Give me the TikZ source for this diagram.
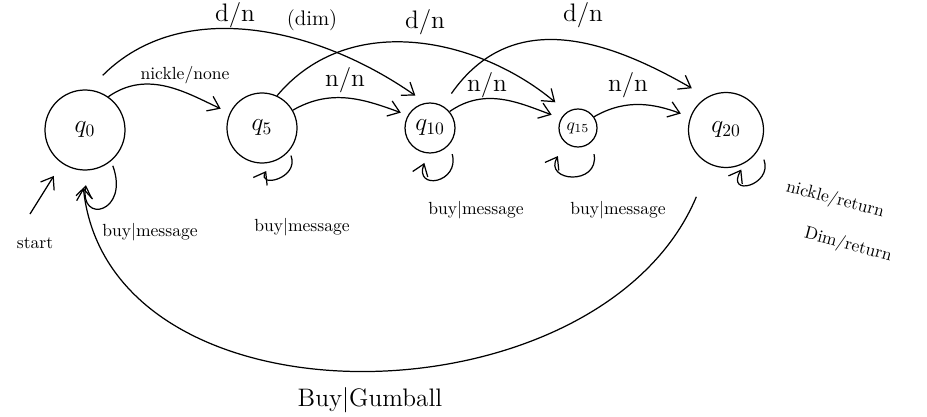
\documentclass[tikz,border=0pt]{standalone}
\usepackage{tikz}
\usetikzlibrary{arrows.meta,positioning}
\tikzset{
  state/.style={draw, circle, line width=0.7pt, inner sep=0pt, font=\Large},
  arr/.style={-{Straight Barb[length=2.2mm,width=3.2mm]}, line width=0.7pt},
  lbl/.style={font=\Large},
  note/.style={font=\normalsize}
}
\begin{document}
\begin{tikzpicture}[x=0.2mm,y=0.2mm]
  \useasboundingbox (0,0) rectangle (927,416);

  % states
  \node[state, minimum size=16mm] (q0) at (85,286) {$q_0$};
  \node[state, minimum size=14mm] (q5) at (262,288) {$q_5$};
  \node[state, minimum size=10mm] (q10) at (430,288) {$q_{10}$};
  \node[state, minimum size=7.6mm, font=\normalsize] (q15) at (578,288) {$q_{15}$};
  \node[state, minimum size=15mm] (q20) at (726,286) {$q_{20}$};

  % nickel edges
  \draw[arr, shorten >=2mm] (q0.55) to[out=35,in=155] (q5.155);
  \draw[arr, shorten >=1.5mm] (q5.30) to[out=30,in=160] (q10.150);
  \draw[arr, shorten >=2mm] (q10.40) to[out=35,in=160] (q15.150);
  \draw[arr, shorten >=2mm] (q15.35) to[out=30,in=160] (q20.160);
  \node[note] (nknone) at (185,341) {nickle/none};
  \node[lbl] (nn1) at (345,336) {n/n};
  \node[lbl] (nn2) at (487,331) {n/n};
  \node[lbl] (nn3) at (628,331) {n/n};

  % dime edges
  \draw[arr, shorten <=4mm, shorten >=2.5mm] (q0.85) to[out=45,in=145] (q10.100);
  \draw[arr, shorten >=3mm] (q5.65) to[out=50,in=140] (q15.125);
  \draw[arr, shorten <=3mm, shorten >=3.5mm] (q10.60) to[out=55,in=150,looseness=1.15] (q20.120);
  \node[lbl] (dn1) at (235,401) {d/n};
  \node[font=\large] (dim) at (312,396) {(dim)};
  \node[lbl] (dn2) at (425,394) {d/n};
  \node[lbl] (dn3) at (583,401) {d/n};

  % self loops
  \draw[arr, shorten <=1mm, shorten >=3mm] (q0.-50) to[out=-70,in=-100,min distance=11mm] (q0.-85);
  \draw[arr, shorten <=1mm, shorten >=2mm] (q5.-40) to[out=-70,in=-120,min distance=6mm] (q5.-75);
  \draw[arr, shorten <=2mm, shorten >=2mm] (q10.-40) to[out=-75,in=-110,min distance=8mm] (q10.-95);
  \draw[arr, shorten <=2.5mm, shorten >=3mm] (q15.-45) to[out=-80,in=-120,min distance=9mm] (q15.-130);
  \draw[arr, shorten <=2.5mm, shorten >=1.5mm] (q20.-28) to[out=-70,in=-120,min distance=8mm] (q20.-60);
  \node[note] (bm0) at (150,184) {buy|message};
  \node[note] (bm5) at (302,189) {buy|message};
  \node[note] (bm10) at (476,206) {buy|message};
  \node[note] (bm15) at (618,206) {buy|message};
  \node[note, rotate=-15] (nkret) at (835,216) {nickle/return};
  \node[note, rotate=-15] (dimret) at (848,171) {Dim/return};

  % start
  \node[note] (start) at (35,173) {start};
  \coordinate (s0) at (30,202);
  \draw[arr, shorten >=3mm] (s0) -- (q0.-125);

  % gumball
  \draw[arr, shorten <=7mm, shorten >=3.5mm] (q20.-115) .. controls (600,-10) and (110,-20) .. (q0.-95);
  \node[lbl] (gum) at (370,16) {Buy|Gumball};
\end{tikzpicture}
\end{document}
